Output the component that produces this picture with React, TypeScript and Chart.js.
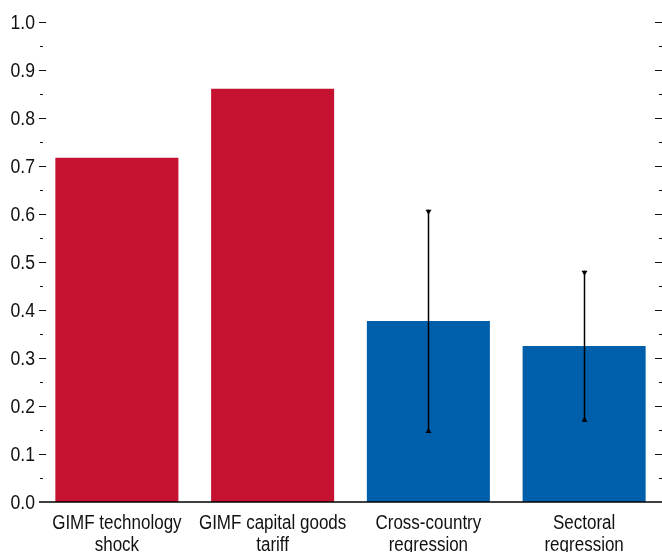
import React, { useEffect, useRef } from "react";
import { Chart, registerables } from "chart.js";

Chart.register(...registerables);

const categories: string[][] = [
  ["GIMF technology", "shock"],
  ["GIMF capital goods", "tariff"],
  ["Cross-country", "regression"],
  ["Sectoral", "regression"],
];
const values: number[] = [0.717, 0.861, 0.377, 0.325];
const errLow: (number | null)[] = [null, null, 0.144, 0.167];
const errHigh: (number | null)[] = [null, null, 0.609, 0.482];
const barColors: string[] = ["#C41230", "#C41230", "#005FAA", "#005FAA"];
const yMin = 0;
const yMax = 1;
const yStep = 0.05;

const FONT = "'Liberation Sans', Arial, sans-serif";

function drawCondensed(ctx: any, text: string, x: number, y: number, sx: number, align: string) {
  ctx.save();
  ctx.translate(x, y);
  ctx.scale(sx, 1);
  ctx.textAlign = align;
  ctx.textBaseline = "alphabetic";
  ctx.fillText(text, 0, 0);
  ctx.restore();
}

const decorPlugin = {
  id: "decor",
  afterDatasetsDraw(chart: any) {
    const ctx = chart.ctx;
    const area = chart.chartArea;
    const y = chart.scales.y;
    const xs = chart.scales.x;
    const meta = chart.getDatasetMeta(0);
    ctx.save();
    // error bars
    ctx.strokeStyle = "#000";
    ctx.fillStyle = "#000";
    meta.data.forEach((bar: any, i: number) => {
      const lo = errLow[i];
      const hi = errHigh[i];
      if (lo == null || hi == null) return;
      const x = Math.round(bar.x) + 0.5;
      const yl = y.getPixelForValue(lo);
      const yh = y.getPixelForValue(hi);
      ctx.lineWidth = 1.5;
      ctx.beginPath();
      ctx.moveTo(x, yh);
      ctx.lineTo(x, yl);
      ctx.stroke();
      ctx.beginPath();
      ctx.moveTo(x - 3, yh);
      ctx.lineTo(x + 3, yh);
      ctx.lineTo(x, yh + 5);
      ctx.closePath();
      ctx.fill();
      ctx.beginPath();
      ctx.moveTo(x - 3, yl);
      ctx.lineTo(x + 3, yl);
      ctx.lineTo(x, yl - 5);
      ctx.closePath();
      ctx.fill();
    });
    // tick marks and y labels
    ctx.lineWidth = 1.2;
    ctx.strokeStyle = "#111";
    ctx.fillStyle = "#111";
    ctx.font = "20px " + FONT;
    y.ticks.forEach((t: any) => {
      const v = t.value;
      const major = Math.round(v * 20) % 2 === 0;
      const py = Math.round(y.getPixelForValue(v)) + 0.5;
      if (major) {
        drawCondensed(ctx, Number(v).toFixed(1), area.left - 4, py + 6.5, 0.88, "right");
      }
      if (v === 0) return;
      ctx.beginPath();
      if (major) {
        ctx.moveTo(area.left, py);
        ctx.lineTo(area.left + 7, py);
        ctx.moveTo(area.right - 7, py);
        ctx.lineTo(area.right, py);
      } else {
        ctx.moveTo(area.left + 1, py);
        ctx.lineTo(area.left + 4, py);
        ctx.moveTo(area.right - 3, py);
        ctx.lineTo(area.right, py);
      }
      ctx.stroke();
    });
    // x labels
    categories.forEach((lines, i) => {
      const cx = xs.getPixelForTick(i);
      lines.forEach((ln, j) => {
        drawCondensed(ctx, ln, cx, 529 + j * 22, 0.85, "center");
      });
    });
    // baseline
    const by = y.getPixelForValue(0);
    ctx.lineWidth = 1.6;
    ctx.strokeStyle = "#000";
    ctx.beginPath();
    ctx.moveTo(area.left, by);
    ctx.lineTo(area.right, by);
    ctx.stroke();
    ctx.restore();
  },
};

export default function App() {
  const ref = useRef<HTMLCanvasElement | null>(null);
  useEffect(() => {
    if (!ref.current) return;
    const chart = new Chart(ref.current, {
      type: "bar",
      data: {
        labels: categories,
        datasets: [
          {
            data: values,
            backgroundColor: barColors,
            borderWidth: 0,
            categoryPercentage: 1,
            barPercentage: 0.79,
          },
        ],
      },
      options: {
        animation: false,
        responsive: false,
        maintainAspectRatio: false,
        devicePixelRatio: 1,
        layout: { padding: { top: 22, right: 0, left: 0, bottom: 0 } },
        plugins: {
          legend: { display: false },
          tooltip: { enabled: false },
          title: { display: false },
        },
        scales: {
          x: {
            grid: { display: false, drawTicks: false },
            border: { display: false },
            ticks: { display: false },
            afterFit: (s: any) => {
              s.height = 50;
            },
          },
          y: {
            min: yMin,
            max: yMax,
            grid: { display: false, drawTicks: false },
            border: { display: false },
            ticks: {
              display: false,
              stepSize: yStep,
              autoSkip: false,
            },
            afterFit: (s: any) => {
              s.width = 39;
            },
          },
        },
      },
      plugins: [decorPlugin],
    });
    return () => chart.destroy();
  }, []);
  return (
    <div style={{ position: "fixed", left: 0, top: 0, width: 662, height: 552, background: "#fff" }}>
      <canvas ref={ref} width={662} height={552} style={{ display: "block", width: 662, height: 552 }} />
    </div>
  );
}
